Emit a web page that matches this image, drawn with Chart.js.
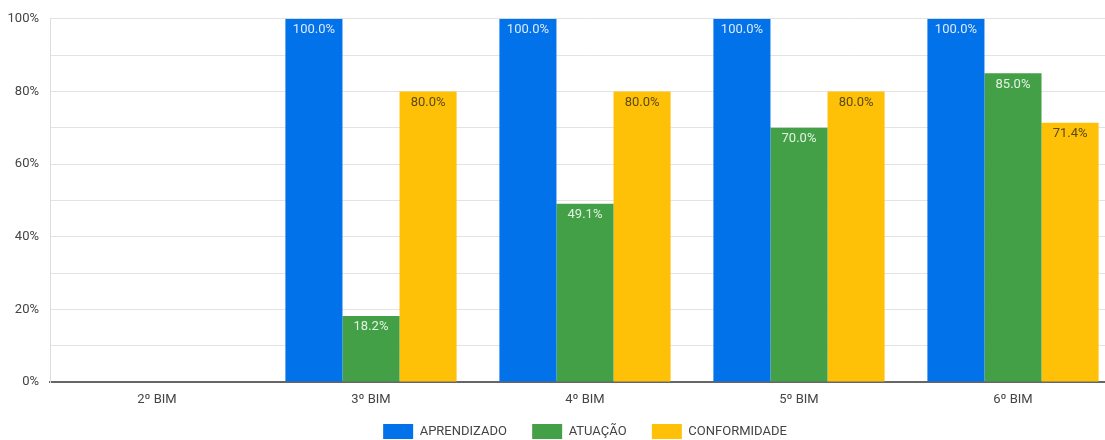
<!DOCTYPE html>
<html>
<head>
<meta charset="utf-8">
<script src="https://cdn.jsdelivr.net/npm/chart.js@4"></script>
<style>
  html, body { margin: 0; padding: 0; background: #fff; overflow: hidden; }
  #wrap { width: 1105px; height: 440px; overflow: hidden; }
</style>
</head>
<body>
<div id="wrap"><canvas id="chart" width="1120" height="449"></canvas></div>
<script>
const categories = ['2º BIM', '3º BIM', '4º BIM', '5º BIM', '6º BIM'];
const aprendizado = [null, 100, 100, 100, 100];
const atuacao = [null, 18.2, 49.1, 70, 85];
const conformidade = [null, 80, 80, 80, 71.4];

const FONT = 'Roboto, "Liberation Sans", sans-serif';

// draws "100.0%" style labels just inside the top of each bar
const barLabels = {
  id: 'barLabels',
  afterDatasetsDraw(chart) {
    const ctx = chart.ctx;
    ctx.save();
    ctx.font = '13px ' + FONT;
    ctx.textAlign = 'center';
    ctx.textBaseline = 'middle';
    chart.data.datasets.forEach((ds, i) => {
      const meta = chart.getDatasetMeta(i);
      meta.data.forEach((bar, j) => {
        const v = ds.data[j];
        if (v == null) return;
        ctx.fillStyle = ds.labelColor;
        ctx.fillText(v.toFixed(1) + '%', bar.x, bar.y + 11);
      });
    });
    ctx.restore();
  }
};

new Chart(document.getElementById('chart'), {
  type: 'bar',
  data: {
    labels: categories,
    datasets: [
      { label: 'APRENDIZADO', data: aprendizado, backgroundColor: '#0272EA', labelColor: '#dde9fb' },
      { label: 'ATUAÇÃO', data: atuacao, backgroundColor: '#43A047', labelColor: '#e3f3e3' },
      { label: 'CONFORMIDADE', data: conformidade, backgroundColor: '#FFC107', labelColor: '#5b4a10' }
    ]
  },
  options: {
    responsive: false,
    animation: false,
    layout: { padding: { top: 18, left: 0, right: 0, bottom: 0 } },
    datasets: { bar: { categoryPercentage: 0.8, barPercentage: 1.0 } },
    scales: {
      x: {
        grid: { display: false, drawTicks: false },
        border: { display: true, color: '#666', width: 2 },
        ticks: { color: '#444', font: { family: FONT, size: 13 }, padding: 10 },
        afterFit(s) { s.height = 30; }
      },
      y: {
        min: 0, max: 100,
        grid: { color: '#e3e3e3', lineWidth: 1, drawTicks: false },
        border: { display: true, color: '#dddddd', width: 1 },
        ticks: {
          stepSize: 10,
          color: '#444',
          font: { family: FONT, size: 13 },
          padding: 11,
          autoSkip: false,
          callback: v => (v % 20 === 0 ? v + '%' : '')
        },
        afterFit(s) { s.width = 50; }
      }
    },
    plugins: {
      tooltip: { enabled: false },
      legend: {
        position: 'bottom',
        fullSize: false,
        labels: {
          boxWidth: 30,
          boxHeight: 15,
          padding: 12,
          color: '#444',
          font: { family: FONT, size: 13 },
          // extra gap after each item except the last
          generateLabels(chart) {
            const items = Chart.defaults.plugins.legend.labels.generateLabels(chart);
            items.forEach((it, k) => { if (k < items.length - 1) it.text += '\u2003'; });
            return items;
          }
        }
      }
    }
  },
  plugins: [barLabels]
});
</script>
</body>
</html>
